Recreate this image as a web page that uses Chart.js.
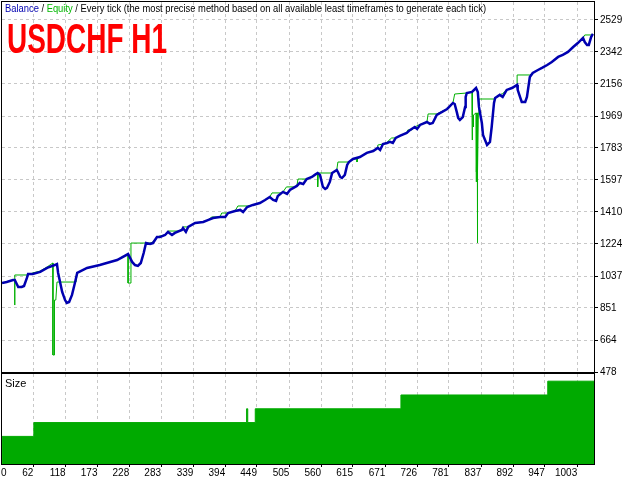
<!DOCTYPE html>
<html><head><meta charset="utf-8">
<script src="https://cdn.jsdelivr.net/npm/chart.js@4.4.1/dist/chart.umd.min.js"></script>
<style>
html,body{margin:0;padding:0;background:#fff;}
#wrap{position:relative;width:640px;height:480px;overflow:hidden;background:#fff;}
#size{position:absolute;left:0;top:372px;}
#main{position:absolute;left:0;top:0;}
</style></head><body>
<div id="wrap"><canvas id="size" width="640" height="108"></canvas><canvas id="main" width="640" height="384"></canvas></div>
<script>
const titleText = 'USDCHF H1';
const legendBalance = 'Balance';
const legendEquity = 'Equity';
const legendMethod = 'Every tick (the most precise method based on all available least timeframes to generate each tick)';
const sizeLabel = 'Size';

const xTickLabels = [0,62,118,173,228,283,339,394,449,505,560,615,671,726,781,837,892,947,1003];
const yTickLabels = [478,664,851,1037,1224,1410,1597,1783,1969,2156,2342,2529];

const balanceTrades = [8,16,27,30,36,42,46,51,53,61,74,86,99,103,105,112,117,120,124,129,134,138,155,177,207,226,233,238,243,248,253,257,264,269,276,281,290,295,302,307,319,321,326,330,342,356,364,373,385,394,399,411,420,425,432,442,454,463,471,477,482,485,494,501,506,518,523,529,535,544,549,554,558,561,563,567,570,575,579,587,589,593,596,601,605,608,615,627,639,650,658,662,667,674,679,684,689,696,708,714,722,726,731,743,748,753,760,778,788,791,795,797,800,805,809,810,812,821,828,831,833,838,840,847,852,855,859,861,869,874,881,890,899,900,904,907,913,916,921,926,935,942,951,959,970,978,987,996,1004,1013,1016,1020,1023,1027,1030];
const balanceValues = [996,1002,1014,1014,973,973,979,1026,1049,1049,1061,1084,1101,1107,1055,944,897,880,886,927,996,1055,1084,1101,1130,1165,1119,1101,1096,1113,1171,1229,1224,1229,1264,1264,1276,1294,1276,1288,1305,1317,1294,1323,1346,1352,1363,1375,1381,1381,1404,1416,1422,1410,1439,1451,1462,1480,1497,1480,1474,1503,1527,1515,1538,1562,1579,1573,1602,1614,1626,1637,1626,1585,1556,1544,1550,1585,1637,1655,1643,1614,1608,1626,1684,1701,1719,1730,1754,1765,1783,1771,1806,1812,1818,1812,1841,1853,1870,1888,1905,1894,1917,1934,1923,1928,1975,2010,2045,2039,1987,1958,1946,1963,2022,2080,2103,2109,2132,2109,2022,1928,1859,1800,1818,1905,2045,2074,2092,2080,2121,2132,2150,2121,2080,2051,2051,2080,2196,2220,2237,2249,2266,2284,2313,2325,2342,2371,2394,2424,2400,2383,2383,2429,2447];

const equityTrades = [8,16,27,30,30,30,53,61,74,86,96,96,98,98,99,99,101,103,136,138,155,177,207,226,226,231,231,264,269,276,281,290,295,314,319,321,330,342,356,364,371,385,388,399,411,416,433,442,454,463,471,475,491,494,500,516,518,520,535,544,549,554,554,555,579,587,589,608,615,622,622,623,627,639,650,657,658,667,674,676,682,689,696,708,710,717,722,729,743,745,760,778,788,791,812,821,821,822,823,823,824,828,828,829,830,830,830,831,831,832,833,859,861,869,874,881,890,899,899,921,926,935,942,951,959,970,978,987,996,1004,1013,1016,1028,1030];
const equityValues = [996,1002,1014,1014,868,1043,1043,1055,1066,1090,1113,577,577,664,664,897,897,1002,1002,1055,1084,1101,1130,1165,996,996,1229,1229,1235,1264,1270,1276,1299,1299,1305,1323,1323,1346,1352,1363,1381,1381,1404,1404,1416,1445,1445,1451,1462,1480,1497,1521,1521,1527,1556,1556,1562,1602,1602,1614,1626,1637,1556,1637,1637,1655,1701,1701,1719,1719,1701,1719,1730,1754,1765,1783,1800,1806,1812,1824,1841,1841,1853,1870,1888,1888,1905,1917,1934,1981,1981,2010,2045,2097,2103,2109,1829,1975,1975,1905,1975,1987,1585,1643,1987,1230,1987,1987,1655,1987,2068,2068,2074,2092,2100,2121,2132,2150,2208,2208,2220,2237,2249,2266,2284,2313,2325,2342,2371,2394,2424,2441,2441,2447];

const sizeTrades = [8,63,431,433,446,698,952,1032];
const sizeValues = [0.2,0.3,0.4,0.3,0.4,0.5,0.6,0.6];

const X_MIN = 7.9, X_MAX = 1032;
const Y_MIN = 478, Y_MAX = 2633;
const SIZE_MAX = 0.652;

const GRID = '#c8c8c8';
const BLUE = '#0000b0';
const GREEN = '#00b000';
const FONT = '"Liberation Sans", Arial, sans-serif';

Chart.defaults.font.family = FONT;
Chart.defaults.font.size = 10;
Chart.defaults.color = '#000';
Chart.defaults.animation = false;

const toPts = (xs, ys) => xs.map((x, i) => ({x: x, y: ys[i]}));

const frame = {
  id: 'frame',
  afterDraw(chart) {
    const {ctx, chartArea: a} = chart;
    ctx.save();
    ctx.strokeStyle = '#000';
    ctx.lineWidth = 1;
    ctx.setLineDash([]);
    ctx.strokeRect(a.left - 0.5, a.top - 0.5, a.right - a.left + 1, a.bottom - a.top + 1);
    ctx.restore();
  }
};

const header = {
  id: 'header',
  afterDraw(chart) {
    const ctx = chart.ctx;
    ctx.save();
    ctx.font = '11px ' + FONT;
    ctx.textBaseline = 'alphabetic';
    const parts = [[legendBalance, BLUE], [' / ', '#000'], [legendEquity, '#00b800'], [' / ' + legendMethod, '#000']];
    const total = parts.reduce((w, p) => w + ctx.measureText(p[0]).width, 0);
    ctx.translate(5, 12);
    ctx.scale(481 / total, 1);
    let x = 0;
    for (const [t, c] of parts) {
      ctx.fillStyle = c;
      ctx.fillText(t, x, 0);
      x += ctx.measureText(t).width;
    }
    ctx.restore();

    ctx.save();
    ctx.font = 'bold 42px "Liberation Sans Narrow", ' + FONT;
    ctx.textBaseline = 'alphabetic';
    const tw = ctx.measureText(titleText).width;
    ctx.translate(7, 53);
    ctx.scale(160 / tw, 1);
    ctx.fillStyle = '#ff0000';
    ctx.fillText(titleText, 0, 0);
    ctx.restore();
  }
};

const sizeTitle = {
  id: 'sizeTitle',
  afterDraw(chart) {
    const ctx = chart.ctx;
    const a = chart.chartArea;
    ctx.save();
    ctx.font = '11px ' + FONT;
    ctx.fillStyle = '#000';
    ctx.textBaseline = 'alphabetic';
    ctx.fillText(sizeLabel, a.left + 3, a.top + 13);
    ctx.restore();
  }
};

new Chart(document.getElementById('main'), {
  type: 'line',
  data: {
    datasets: [
      {label: legendBalance, data: toPts(balanceTrades, balanceValues), borderColor: BLUE, borderWidth: 2.5, pointRadius: 0, tension: 0, fill: false, order: 0},
      {label: legendEquity, data: toPts(equityTrades, equityValues), borderColor: GREEN, borderWidth: 1, pointRadius: 0, tension: 0, fill: false, order: 1}
    ]
  },
  options: {
    responsive: false, animation: false, devicePixelRatio: 1,
    layout: {padding: {left: 2, top: 2, right: 0, bottom: 12}},
    plugins: {legend: {display: false}, tooltip: {enabled: false}},
    scales: {
      x: {
        type: 'linear', min: X_MIN, max: X_MAX,
        afterBuildTicks: s => { s.ticks = xTickLabels.filter(v => v > X_MIN).map(v => ({value: v})); },
        ticks: {display: false},
        grid: {color: GRID, drawTicks: false},
        border: {display: false, dash: [3, 3]},
        afterFit: s => { s.height = 0; s.paddingLeft = 0; s.paddingRight = 0; }
      },
      y: {
        position: 'right', min: Y_MIN, max: Y_MAX,
        afterBuildTicks: s => { s.ticks = yTickLabels.map(v => ({value: v})); },
        ticks: {callback: v => String(v), padding: 2, color: '#000', font: {size: 10}},
        grid: {color: GRID, tickColor: '#000', tickLength: 4, tickBorderDash: []},
        border: {display: false, dash: [3, 3]},
        afterFit: s => { s.width = 46; s.paddingTop = 0; s.paddingBottom = 0; }
      }
    }
  },
  plugins: [frame, header]
});

new Chart(document.getElementById('size'), {
  type: 'line',
  data: {
    datasets: [{label: sizeLabel, data: toPts(sizeTrades, sizeValues), stepped: true, fill: 'origin', backgroundColor: '#00aa00', borderColor: '#00aa00', borderWidth: 1, pointRadius: 0}]
  },
  options: {
    responsive: false, animation: false, devicePixelRatio: 1,
    layout: {padding: {left: 2, top: 2, right: 46, bottom: 0}},
    plugins: {legend: {display: false}, tooltip: {enabled: false}},
    scales: {
      x: {
        type: 'linear', min: X_MIN, max: X_MAX,
        afterBuildTicks: s => { s.ticks = xTickLabels.map(v => ({value: Math.max(v, X_MIN + 8)})); },
        ticks: {align: 'end', padding: 0, autoSkip: false, maxRotation: 0, color: '#000', font: {size: 10},
                callback: (v, i) => String(xTickLabels[i])},
        grid: {color: c => c.index === 0 ? 'rgba(0,0,0,0)' : GRID,
               tickColor: c => c.index === 0 ? 'rgba(0,0,0,0)' : '#000',
               tickLength: 3, tickBorderDash: []},
        border: {display: false, dash: [3, 3]},
        afterFit: s => { s.height = 16; s.paddingLeft = 0; s.paddingRight = 0; }
      },
      y: {display: false, min: 0, max: SIZE_MAX}
    }
  },
  plugins: [frame, sizeTitle]
});
</script>
</body></html>
